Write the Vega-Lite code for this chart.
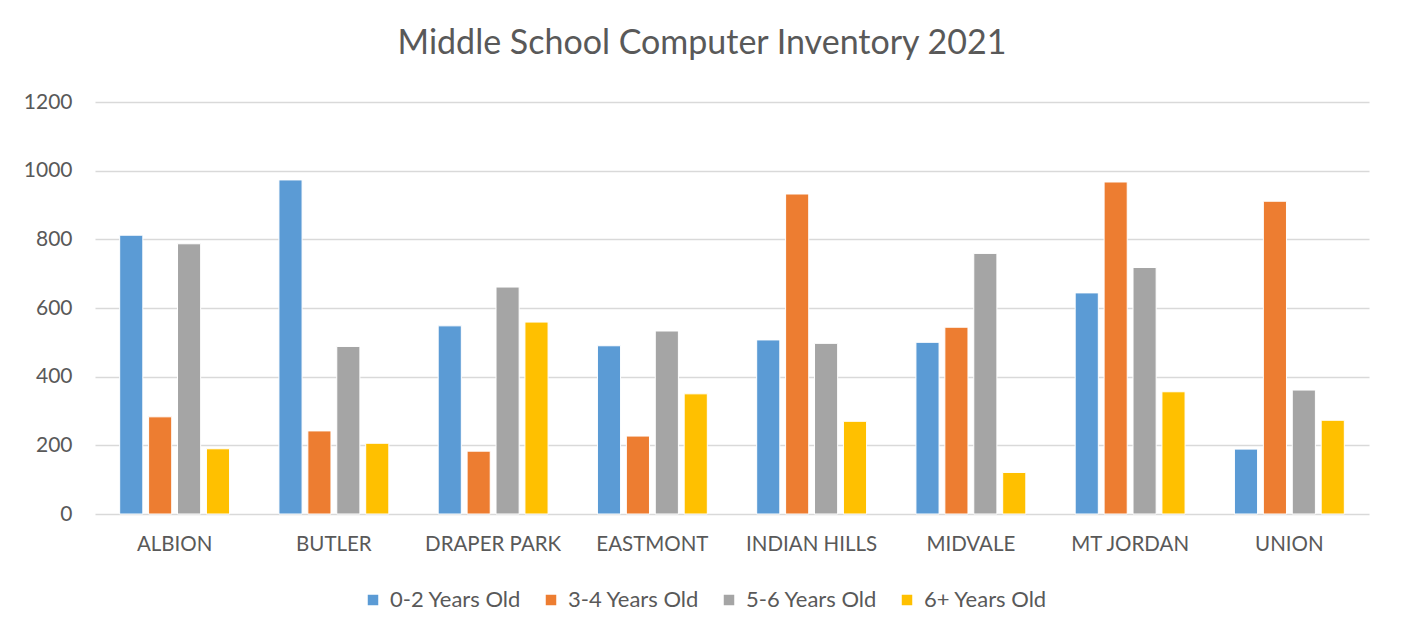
{
  "$schema": "https://vega.github.io/schema/vega-lite/v6.json",
  "width": 1274,
  "height": 412,
  "autosize": "none",
  "padding": {"left": 95, "top": 102, "right": 34, "bottom": 121},
  "background": "white",
  "title": {
    "text": "Middle School Computer Inventory 2021",
    "font": "Lato",
    "fontSize": 34,
    "fontWeight": "normal",
    "color": "#595959",
    "anchor": "middle",
    "dx": -30,
    "offset": 30
  },
  "data": {
    "values": [
      {"school": "ALBION", "age": "0-2 Years Old", "count": 812},
      {"school": "ALBION", "age": "3-4 Years Old", "count": 283},
      {"school": "ALBION", "age": "5-6 Years Old", "count": 787},
      {"school": "ALBION", "age": "6+ Years Old", "count": 190},
      {"school": "BUTLER", "age": "0-2 Years Old", "count": 973},
      {"school": "BUTLER", "age": "3-4 Years Old", "count": 242},
      {"school": "BUTLER", "age": "5-6 Years Old", "count": 488},
      {"school": "BUTLER", "age": "6+ Years Old", "count": 206},
      {"school": "DRAPER PARK", "age": "0-2 Years Old", "count": 548},
      {"school": "DRAPER PARK", "age": "3-4 Years Old", "count": 183},
      {"school": "DRAPER PARK", "age": "5-6 Years Old", "count": 661},
      {"school": "DRAPER PARK", "age": "6+ Years Old", "count": 559},
      {"school": "EASTMONT", "age": "0-2 Years Old", "count": 490},
      {"school": "EASTMONT", "age": "3-4 Years Old", "count": 227},
      {"school": "EASTMONT", "age": "5-6 Years Old", "count": 533},
      {"school": "EASTMONT", "age": "6+ Years Old", "count": 350},
      {"school": "INDIAN HILLS", "age": "0-2 Years Old", "count": 507},
      {"school": "INDIAN HILLS", "age": "3-4 Years Old", "count": 932},
      {"school": "INDIAN HILLS", "age": "5-6 Years Old", "count": 497},
      {"school": "INDIAN HILLS", "age": "6+ Years Old", "count": 270},
      {"school": "MIDVALE", "age": "0-2 Years Old", "count": 500},
      {"school": "MIDVALE", "age": "3-4 Years Old", "count": 544},
      {"school": "MIDVALE", "age": "5-6 Years Old", "count": 759},
      {"school": "MIDVALE", "age": "6+ Years Old", "count": 121},
      {"school": "MT JORDAN", "age": "0-2 Years Old", "count": 644},
      {"school": "MT JORDAN", "age": "3-4 Years Old", "count": 967},
      {"school": "MT JORDAN", "age": "5-6 Years Old", "count": 718},
      {"school": "MT JORDAN", "age": "6+ Years Old", "count": 356},
      {"school": "UNION", "age": "0-2 Years Old", "count": 189},
      {"school": "UNION", "age": "3-4 Years Old", "count": 911},
      {"school": "UNION", "age": "5-6 Years Old", "count": 361},
      {"school": "UNION", "age": "6+ Years Old", "count": 273}
    ]
  },
  "mark": {"type": "bar", "stroke": "white", "strokeWidth": 1},
  "encoding": {
    "x": {
      "field": "school",
      "type": "nominal",
      "sort": null,
      "scale": {"paddingInner": 0.31, "paddingOuter": 0.155},
      "axis": {
        "title": null,
        "labelAngle": 0,
        "ticks": false,
        "domain": false,
        "labelFont": "Lato",
        "labelFontSize": 20.5,
        "labelColor": "#595959",
        "labelPadding": 20
      }
    },
    "xOffset": {
      "field": "age",
      "type": "nominal",
      "scale": {"paddingInner": 0.2, "paddingOuter": 0}
    },
    "y": {
      "field": "count",
      "type": "quantitative",
      "scale": {"domain": [0, 1200], "nice": false},
      "axis": {
        "title": null,
        "values": [0, 200, 400, 600, 800, 1000, 1200],
        "format": "d",
        "ticks": false,
        "domain": false,
        "grid": true,
        "gridColor": "#D9D9D9",
        "gridWidth": 1.5,
        "labelFont": "Lato",
        "labelFontSize": 21,
        "labelColor": "#595959",
        "labelPadding": 23
      }
    },
    "color": {
      "field": "age",
      "type": "nominal",
      "scale": {
        "domain": ["0-2 Years Old", "3-4 Years Old", "5-6 Years Old", "6+ Years Old"],
        "range": ["#5B9BD5", "#ED7D31", "#A5A5A5", "#FFC000"]
      },
      "legend": {
        "title": null,
        "orient": "none",
        "direction": "horizontal",
        "legendX": 267,
        "legendY": 487,
        "symbolType": "square",
        "symbolSize": 110,
        "symbolStrokeWidth": 0,
        "labelFont": "Lato",
        "labelFontSize": 22,
        "labelColor": "#595959",
        "labelOffset": 6,
        "columnPadding": 18
      }
    }
  },
  "config": {
    "view": {"stroke": null}
  }
}
